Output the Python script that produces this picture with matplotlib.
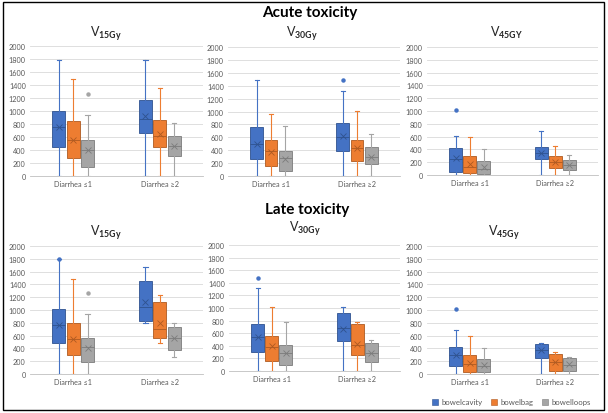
import matplotlib
matplotlib.use("Agg")
import matplotlib.pyplot as plt
from matplotlib.patches import Rectangle
from matplotlib.lines import Line2D

plt.rcParams['font.family'] = ['Lato', 'DejaVu Sans']
plt.rcParams['mathtext.fontset'] = 'custom'
plt.rcParams['mathtext.rm'] = 'Lato'
plt.rcParams['mathtext.bf'] = 'Lato:bold'

categories = ['Diarrhea ≤1', 'Diarrhea ≥2']
series = ['bowelcavity', 'bowelbag', 'bowelloops']
fill_colors = ['#4472C4', '#ED7D31', '#A5A5A5']
edge_colors = ['#2F528F', '#AE5A21', '#7B7B7B']
yticks = list(range(0, 2001, 200))

# each box: (whisker low, q1, median, q3, whisker high, mean)
# order: cat1 cavity, cat1 bag, cat1 loops, cat2 cavity, cat2 bag, cat2 loops
acute_v15 = [(0, 450, 750, 1000, 1780, 760), (0, 270, 550, 850, 1490, 555), (0, 140, 400, 560, 940, 400),
             (0, 660, 880, 1170, 1790, 920), (0, 450, 620, 860, 1360, 650), (0, 305, 460, 620, 810, 460)]
acute_v30 = [(0, 260, 500, 760, 1490, 500), (0, 150, 380, 560, 960, 370), (0, 70, 280, 395, 770, 270),
             (0, 390, 610, 820, 1320, 620), (0, 240, 430, 560, 1010, 430), (0, 180, 300, 445, 650, 300)]
acute_v45 = [(0, 50, 250, 425, 610, 270), (0, 30, 130, 290, 600, 170), (0, 20, 100, 215, 410, 120),
             (0, 255, 340, 440, 680, 350), (0, 105, 200, 290, 460, 200), (0, 80, 150, 235, 320, 150)]
late_v15 = [(0, 490, 760, 1010, 1790, 760), (0, 290, 540, 800, 1490, 550), (0, 190, 420, 560, 930, 410),
            (800, 830, 1040, 1460, 1670, 1120), (490, 570, 700, 1130, 1230, 800), (260, 370, 560, 730, 800, 560)]
late_v30 = [(0, 300, 540, 740, 1310, 540), (0, 160, 380, 560, 1010, 390), (0, 100, 280, 410, 770, 280),
            (0, 470, 680, 920, 1010, 670), (0, 250, 420, 740, 770, 430), (0, 140, 290, 440, 500, 290)]
late_v45 = [(0, 130, 290, 420, 680, 300), (0, 30, 160, 295, 600, 170), (0, 30, 130, 230, 410, 140),
            (0, 250, 380, 465, 490, 380), (0, 50, 190, 305, 340, 190), (0, 40, 140, 245, 265, 150)]

# outliers per box, same order
acute_v15_out = [[], [], [1260], [], [], []]
acute_v30_out = [[], [], [], [1490], [], []]
acute_v45_out = [[1010], [], [], [], [], []]
late_v15_out = [[1795], [], [1260], [], [], []]
late_v30_out = [[1480], [], [], [], [], []]
late_v45_out = [[1010], [], [], [], [], []]

W, H = 608, 414
fig = plt.figure(figsize=(W / 100, H / 100), dpi=100)


def px_axes(x0, y0, x1, y1):
    return fig.add_axes([x0 / W, 1 - y1 / H, (x1 - x0) / W, (y1 - y0) / H])


panels = [
    (acute_v15, acute_v15_out, (30, 47, 203, 177), r'$\mathrm{V}_{\mathbf{15Gy}}$', (106, 34)),
    (acute_v30, acute_v30_out, (228, 48, 400, 177), r'$\mathrm{V}_{\mathbf{30Gy}}$', (302, 34)),
    (acute_v45, acute_v45_out, (427, 48, 598, 176), r'$\mathrm{V}_{\mathbf{45GY}}$', (506, 33)),
    (late_v15, late_v15_out, (30, 247, 203, 375), r'$\mathrm{V}_{\mathbf{15Gy}}$', (106, 233)),
    (late_v30, late_v30_out, (229, 246, 400, 372), r'$\mathrm{V}_{\mathbf{30Gy}}$', (305, 229)),
    (late_v45, late_v45_out, (427, 247, 598, 375), r'$\mathrm{V}_{\mathbf{45Gy}}$', (504, 233)),
]

offsets = [-0.165, 0.0, 0.165]
centers = [0.5, 1.5]

for data, outs, box, title, tpos in panels:
    ax = px_axes(*box)
    for s in range(3):
        stats = []
        for c in range(2):
            lo, q1, med, q3, hi, mean = data[c * 3 + s]
            stats.append(dict(whislo=lo, q1=q1, med=med, q3=q3, whishi=hi,
                              mean=mean, fliers=outs[c * 3 + s]))
        ax.bxp(stats, positions=[cc + offsets[s] for cc in centers], widths=0.15,
               capwidths=0.05, patch_artist=True, showmeans=True, manage_ticks=False,
               boxprops=dict(facecolor=fill_colors[s], edgecolor=edge_colors[s], linewidth=0.6),
               whiskerprops=dict(color=fill_colors[s], linewidth=0.8),
               capprops=dict(color=fill_colors[s], linewidth=0.8),
               medianprops=dict(color=edge_colors[s], linewidth=0.6),
               meanprops=dict(marker='x', markeredgecolor=edge_colors[s], markersize=4,
                              markeredgewidth=0.6),
               flierprops=dict(marker='o', markerfacecolor=fill_colors[s], markeredgecolor=fill_colors[s],
                               markersize=2.2))
    ax.set_xlim(0, 2)
    ax.set_ylim(0, 2000)
    ax.set_yticks(yticks)
    ax.set_xticks(centers)
    ax.set_xticklabels(categories)
    ax.tick_params(length=0, labelsize=5.2, labelcolor='#595959', pad=3)
    ax.grid(axis='y', color='#D9D9D9', linewidth=0.6)
    ax.set_axisbelow(True)
    for side in ['top', 'right', 'left']:
        ax.spines[side].set_visible(False)
    ax.spines['bottom'].set_color('#BFBFBF')
    ax.spines['bottom'].set_linewidth(0.6)
    fig.text(tpos[0] / W, 1 - tpos[1] / H, title, ha='center', va='center', fontsize=9, color='#262626')

fig.text(310 / W, 1 - 13 / H, 'Acute toxicity', ha='center', va='center', fontsize=11,
         fontweight='bold', color='black')
fig.text(307 / W, 1 - 210 / H, 'Late toxicity', ha='center', va='center', fontsize=11,
         fontweight='bold', color='black')

handles = [Line2D([], [], linestyle='none', marker='s', markersize=5,
                  markerfacecolor=fill_colors[i], markeredgecolor=edge_colors[i], markeredgewidth=0.4)
           for i in range(3)]
fig.legend(handles, series, loc='center', bbox_to_anchor=(511 / W, 1 - 403 / H), ncol=3,
           frameon=False, fontsize=5.6, labelcolor='#595959', handletextpad=0.3, columnspacing=1.0,
           handlelength=1.0)

fig.patches.append(Rectangle((3 / W, 3 / H), 601 / W, 408 / H, transform=fig.transFigure,
                             fill=False, edgecolor='black', linewidth=1.0))

fig.savefig('out.png', dpi=100)
